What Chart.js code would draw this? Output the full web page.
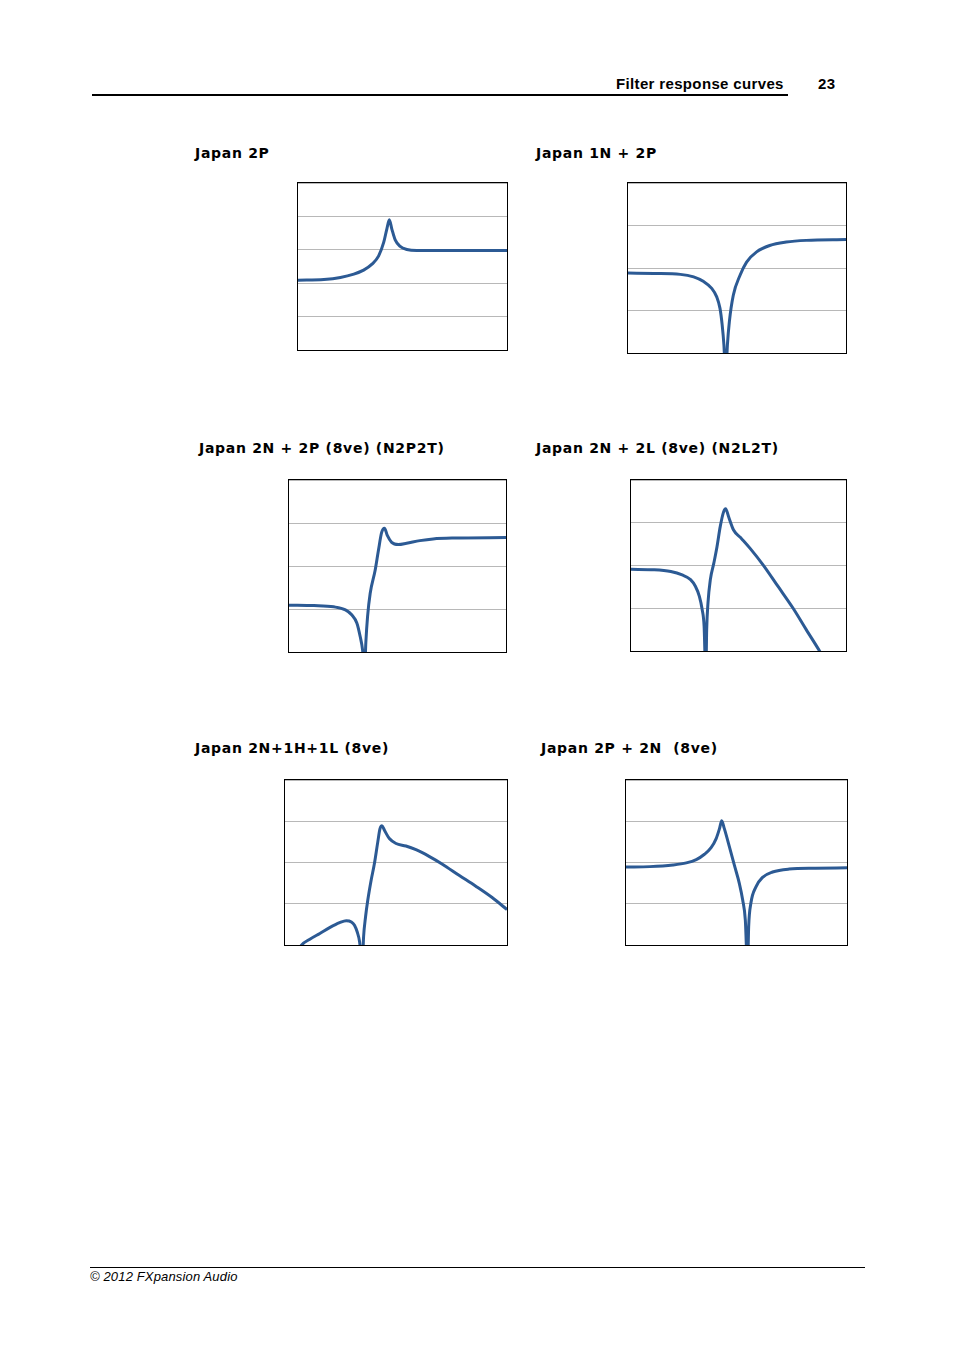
<!DOCTYPE html>
<html lang="en">
<head>
    <meta charset="UTF-8">
    <title>Filter response curves</title>
    <script src="https://cdn.jsdelivr.net/npm/chart.js"></script>
    <style>
        body { margin: 0; background: white; width: 954px; height: 1351px; position: relative; font-family: "Liberation Sans", Arial, sans-serif; }
        .hdr { position: absolute; top: 75px; font-weight: bold; font-size: 15px; letter-spacing: 0.35px; }
        .rule { position: absolute; background: black; }
        .title { position: absolute; font-family: "DejaVu Sans", Verdana, sans-serif; font-weight: bold; font-size: 14px; letter-spacing: 0.7px; white-space: pre; }
        .box { position: absolute; border: 1px solid black; box-sizing: border-box; }
        .foot { position: absolute; left: 90px; top: 1269px; font-style: italic; font-size: 13px; letter-spacing: 0.15px; }
    </style>
</head>
<body>
    <div class="hdr" style="left:616px">Filter response curves</div>
    <div class="hdr" style="left:818px">23</div>
    <div class="rule" style="left:92px; top:94px; width:696px; height:2px"></div>

    <div class="title" style="left:195px; top:145px">Japan 2P</div>
    <div class="title" style="left:536px; top:145px">Japan 1N + 2P</div>
    <div class="title" style="left:199px; top:440px">Japan 2N + 2P (8ve) (N2P2T)</div>
    <div class="title" style="left:536px; top:440px">Japan 2N + 2L (8ve) (N2L2T)</div>
    <div class="title" style="left:195px; top:740px">Japan 2N+1H+1L (8ve)</div>
    <div class="title" style="left:541px; top:740px">Japan 2P + 2N  (8ve)</div>

    <div class="box" style="left:297px; top:182px; width:211px; height:169px"><canvas id="c1"></canvas></div>
    <div class="box" style="left:627px; top:182px; width:220px; height:172px"><canvas id="c2"></canvas></div>
    <div class="box" style="left:288px; top:479px; width:219px; height:174px"><canvas id="c3"></canvas></div>
    <div class="box" style="left:630px; top:479px; width:217px; height:173px"><canvas id="c4"></canvas></div>
    <div class="box" style="left:284px; top:779px; width:224px; height:167px"><canvas id="c5"></canvas></div>
    <div class="box" style="left:625px; top:779px; width:223px; height:167px"><canvas id="c6"></canvas></div>

    <div class="rule" style="left:90px; top:1267px; width:775px; height:1px"></div>
    <div class="foot">© 2012 FXpansion Audio</div>

    <script>
        // Japan 2P (y range 0..5)
        const j2pX = [0, 12.4, 20.3, 26.7, 31.4, 35.4, 38.6, 41, 42.5, 43.7, 44.9, 46.5, 48.9, 52.1, 56.8, 67.9, 100];
        const j2pY = [2.09, 2.11, 2.17, 2.27, 2.39, 2.57, 2.82, 3.22, 3.62, 3.90, 3.62, 3.30, 3.10, 3.01, 2.98, 2.98, 2.98];

        // Japan 1N + 2P (y range 0..4)
        const j1n2pX = [0, 11.9, 24, 30.1, 34.7, 38.4, 40.7, 42.2, 43.2, 44, 44.8, 45.6, 46.5, 48.3, 51.4, 54.4, 59, 65, 72.6, 81.8, 100];
        const j1n2pY = [1.88, 1.87, 1.85, 1.79, 1.68, 1.52, 1.32, 1.05, 0.66, 0.19, -0.6, 0.19, 0.74, 1.36, 1.83, 2.14, 2.38, 2.53, 2.61, 2.65, 2.67];

        // Japan 2N + 2P (8ve) (N2P2T)
        const n2p2tX = [0, 11.5, 20.6, 26, 29, 31.3, 32.8, 33.9, 34.8, 35.4, 36.2, 37.4, 39.7, 41.2, 42.7, 44, 45.3, 47.3, 50.4, 54.2, 60.3, 66.4, 75.6, 100];
        const n2p2tY = [1.09, 1.08, 1.05, 0.98, 0.86, 0.67, 0.36, 0.05, -0.5, 0.21, 0.82, 1.36, 1.9, 2.36, 2.78, 2.88, 2.71, 2.55, 2.5, 2.53, 2.59, 2.63, 2.65, 2.66];

        // Japan 2N + 2L (8ve) (N2L2T)
        const n2l2tX = [0, 10.8, 18.5, 23.8, 27.7, 30, 31.8, 33.1, 34, 34.8, 35.2, 35.8, 36.9, 38.5, 40, 41.5, 43.1, 44, 45.4, 47.7, 50.8, 52.3, 55.4, 61.5, 68.4, 75.4, 81.5, 87.7, 91];
        const n2l2tY = [1.91, 1.90, 1.86, 1.78, 1.67, 1.51, 1.28, 0.97, 0.58, -0.6, 0.5, 1.12, 1.67, 2.05, 2.44, 2.91, 3.26, 3.33, 3.14, 2.83, 2.66, 2.58, 2.40, 2.01, 1.51, 1.0, 0.5, 0, -0.28];

        // Japan 2N+1H+1L (8ve)
        const n1h1lX = [4, 7.5, 11.2, 15.7, 20.1, 24.6, 27.6, 29.9, 31.3, 32.5, 33.6, 34.8, 35.4, 36.3, 37.3, 38.8, 40.3, 41.8, 42.8, 43.7, 44.8, 47, 50, 54.5, 59, 64.9, 70.9, 78.4, 85.8, 93.3, 100];
        const n1h1lY = [-0.3, 0, 0.14, 0.28, 0.42, 0.54, 0.59, 0.56, 0.48, 0.32, 0.08, -0.5, 0.2, 0.69, 1.09, 1.57, 1.98, 2.5, 2.82, 2.89, 2.78, 2.58, 2.46, 2.4, 2.31, 2.15, 1.96, 1.69, 1.43, 1.15, 0.86];

        // Japan 2P + 2N (8ve)
        const j2p2nX = [0, 10.8, 21.3, 27.3, 31.8, 35.5, 38.5, 40.8, 42.3, 43.3, 44.5, 46.8, 49, 51.3, 52.8, 54, 55, 55.5, 56.5, 58.8, 61.8, 66.3, 73.8, 85.8, 100];
        const j2p2nY = [1.89, 1.90, 1.94, 1.99, 2.07, 2.2, 2.36, 2.58, 2.82, 3.01, 2.82, 2.38, 1.94, 1.49, 1.09, 0.6, -0.6, 0.44, 1.01, 1.41, 1.64, 1.77, 1.84, 1.86, 1.87];

        function drawCurve(id, xs, ys, yMax) {
            new Chart(document.getElementById(id), {
                type: 'line',
                data: {
                    datasets: [{
                        data: xs.map((x, i) => ({ x: x, y: ys[i] })),
                        borderColor: '#2c5a94',
                        borderWidth: 3,
                        pointRadius: 0,
                        cubicInterpolationMode: 'monotone',
                        clip: 0
                    }]
                },
                options: {
                    responsive: true,
                    maintainAspectRatio: false,
                    animation: false,
                    layout: { padding: 0 },
                    plugins: { legend: { display: false }, tooltip: { enabled: false } },
                    scales: {
                        x: { type: 'linear', min: 0, max: 100, display: false },
                        y: {
                            min: 0, max: yMax,
                            ticks: { display: false, stepSize: 1 },
                            grid: { color: '#b8b8b8', lineWidth: 1, drawTicks: false },
                            border: { display: false }
                        }
                    }
                }
            });
        }

        drawCurve('c1', j2pX, j2pY, 5);
        drawCurve('c2', j1n2pX, j1n2pY, 4);
        drawCurve('c3', n2p2tX, n2p2tY, 4);
        drawCurve('c4', n2l2tX, n2l2tY, 4);
        drawCurve('c5', n1h1lX, n1h1lY, 4);
        drawCurve('c6', j2p2nX, j2p2nY, 4);
    </script>
</body>
</html>
